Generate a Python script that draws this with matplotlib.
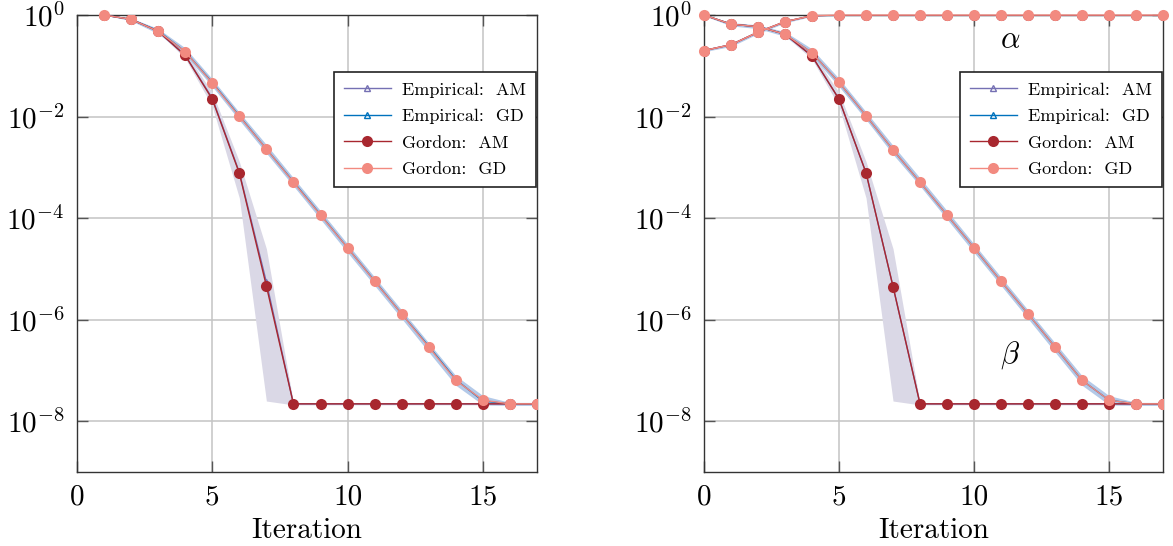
import numpy as np
import matplotlib
matplotlib.use("Agg")
import matplotlib.pyplot as plt

plt.rcParams['font.family'] = 'cmr10'
plt.rcParams['mathtext.fontset'] = 'cm'
plt.rcParams['axes.unicode_minus'] = False

# ---- data: left panel (iterations 1..17) ----
iters_left = np.arange(1, 18)
gordon_gd_left = [1.0, 0.82, 0.48, 0.19, 0.046, 0.0101, 0.0023, 5.1e-4, 1.15e-4, 2.6e-5,
                  5.7e-6, 1.3e-6, 2.9e-7, 6.4e-8, 2.6e-8, 2.2e-8, 2.2e-8]
gordon_am_left = [1.0, 0.82, 0.48, 0.16, 0.022, 7.7e-4, 4.6e-6, 2.2e-8, 2.2e-8, 2.2e-8,
                  2.2e-8, 2.2e-8, 2.2e-8, 2.2e-8, 2.2e-8, 2.2e-8, 2.2e-8]
emp_gd_left = [1.0, 0.82, 0.49, 0.19, 0.047, 0.0103, 0.0023, 5.2e-4, 1.17e-4, 2.6e-5,
               5.8e-6, 1.3e-6, 3.0e-7, 6.6e-8, 2.5e-8, 2.2e-8, 2.2e-8]
emp_am_left = [1.0, 0.82, 0.48, 0.16, 0.023, 8.0e-4, 5.5e-6, 2.2e-8, 2.2e-8, 2.2e-8,
               2.2e-8, 2.2e-8, 2.2e-8, 2.2e-8, 2.2e-8, 2.2e-8, 2.2e-8]
gd_lo_left = [1.0, 0.77, 0.43, 0.165, 0.039, 0.0085, 0.0019, 4.3e-4, 9.5e-5, 2.1e-5,
              4.7e-6, 1.05e-6, 2.3e-7, 5.1e-8, 2.1e-8, 2.05e-8, 2.05e-8]
gd_hi_left = [1.0, 0.87, 0.54, 0.225, 0.055, 0.0121, 0.0028, 6.2e-4, 1.4e-4, 3.1e-5,
              6.9e-6, 1.55e-6, 3.5e-7, 7.9e-8, 3.2e-8, 2.35e-8, 2.35e-8]
am_lo_left = [1.0, 0.79, 0.46, 0.14, 0.016, 2.5e-4, 2.5e-8, 2.1e-8, 2.1e-8, 2.1e-8,
              2.1e-8, 2.1e-8, 2.1e-8, 2.1e-8, 2.1e-8, 2.1e-8, 2.1e-8]
am_hi_left = [1.0, 0.85, 0.50, 0.185, 0.030, 1.3e-3, 2.5e-5, 2.3e-8, 2.3e-8, 2.3e-8,
              2.3e-8, 2.3e-8, 2.3e-8, 2.3e-8, 2.3e-8, 2.3e-8, 2.3e-8]

# ---- data: right panel (iterations 0..17) ----
iters_right = np.arange(0, 18)
alpha_gd = [0.2, 0.26, 0.46, 0.74, 0.97, 1.0, 1.0, 1.0, 1.0, 1.0,
            1.0, 1.0, 1.0, 1.0, 1.0, 1.0, 1.0, 1.0]
alpha_lo = [0.19, 0.24, 0.43, 0.70, 0.94, 0.97, 0.97, 0.97, 0.97, 0.97,
            0.97, 0.97, 0.97, 0.97, 0.97, 0.97, 0.97, 0.97]
alpha_hi = [0.21, 0.28, 0.49, 0.78, 1.0, 1.03, 1.03, 1.03, 1.03, 1.03,
            1.03, 1.03, 1.03, 1.03, 1.03, 1.03, 1.03, 1.03]
beta_gd = [1.0, 0.66, 0.59, 0.42, 0.18, 0.047, 0.0104, 0.0022, 5.1e-4, 1.15e-4,
           2.6e-5, 5.7e-6, 1.3e-6, 2.9e-7, 6.4e-8, 2.6e-8, 2.2e-8, 2.2e-8]
beta_am = [1.0, 0.66, 0.59, 0.42, 0.155, 0.022, 7.8e-4, 4.5e-6, 2.2e-8, 2.2e-8,
           2.2e-8, 2.2e-8, 2.2e-8, 2.2e-8, 2.2e-8, 2.2e-8, 2.2e-8, 2.2e-8]
beta_gd_lo = [0.97, 0.61, 0.54, 0.38, 0.155, 0.039, 0.0087, 0.0018, 4.3e-4, 9.5e-5,
              2.1e-5, 4.7e-6, 1.05e-6, 2.3e-7, 5.1e-8, 2.1e-8, 2.05e-8, 2.05e-8]
beta_gd_hi = [1.0, 0.71, 0.64, 0.47, 0.215, 0.056, 0.0124, 0.0027, 6.2e-4, 1.4e-4,
              3.1e-5, 6.9e-6, 1.55e-6, 3.5e-7, 7.9e-8, 3.2e-8, 2.35e-8, 2.35e-8]
beta_am_lo = [0.97, 0.63, 0.56, 0.39, 0.135, 0.016, 2.5e-4, 2.5e-8, 2.1e-8, 2.1e-8,
              2.1e-8, 2.1e-8, 2.1e-8, 2.1e-8, 2.1e-8, 2.1e-8, 2.1e-8, 2.1e-8]
beta_am_hi = [1.0, 0.69, 0.62, 0.45, 0.18, 0.030, 1.3e-3, 2.5e-5, 2.3e-8, 2.3e-8,
              2.3e-8, 2.3e-8, 2.3e-8, 2.3e-8, 2.3e-8, 2.3e-8, 2.3e-8, 2.3e-8]

labels = ["Empirical:  AM", "Empirical:  GD", "Gordon:  AM", "Gordon:  GD"]
c_emp_am = '#7570b3'
c_emp_gd = '#0072bd'
c_gor_am = '#a8272f'
c_gor_gd = '#f28a80'
c_band_am = '#dad8e6'
c_band_gd = '#b3c9e8'

yticks = [1, 1e-2, 1e-4, 1e-6, 1e-8]
ytick_labels = ["$10^{0}$", "$10^{-2}$", "$10^{-4}$", "$10^{-6}$", "$10^{-8}$"]


def style_axes(ax):
    ax.set_yscale('log')
    ax.set_xlim(0, 17)
    ax.set_ylim(1e-9, 1)
    ax.set_xticks([0, 5, 10, 15])
    ax.set_xticklabels(["0", "5", "10", "15"])
    ax.set_yticks(yticks)
    ax.set_yticklabels(ytick_labels)
    ax.minorticks_off()
    ax.tick_params(direction='in', length=8, width=1.0, top=True, right=True,
                   labelsize=21, pad=9, color='#555555')
    ax.grid(True, color='#c4c4c4', linewidth=1.1)
    ax.set_axisbelow(True)
    for s in ax.spines.values():
        s.set_color('#333333')
        s.set_linewidth(1.0)
    ax.set_xlabel("Iteration", fontsize=21, labelpad=5)


def draw_pair(ax, x, emp_am, emp_gd, gor_am, gor_gd):
    ax.plot(x, emp_am, color=c_emp_am, lw=1.0, marker='^', ms=5, mfc='none', mew=1.0,
            label=labels[0], zorder=3)
    ax.plot(x, emp_gd, color=c_emp_gd, lw=1.0, marker='^', ms=5, mfc='none', mew=1.0,
            label=labels[1], zorder=3)
    ax.plot(x, gor_am, color=c_gor_am, lw=1.0, marker='o', ms=8, mec='none',
            label=labels[2], zorder=4)
    ax.plot(x, gor_gd, color=c_gor_gd, lw=1.0, marker='o', ms=8, mec='none',
            label=labels[3], zorder=5)


fig = plt.figure(figsize=(11.73, 5.46), dpi=100)
ax1 = fig.add_axes([0.0656, 0.1355, 0.3922, 0.837])
ax2 = fig.add_axes([0.6002, 0.1355, 0.3913, 0.837])

# left panel
ax1.fill_between(iters_left, am_lo_left, am_hi_left, color=c_band_am, lw=0, zorder=2)
ax1.fill_between(iters_left, gd_lo_left, gd_hi_left, color=c_band_gd, lw=0, zorder=2)
draw_pair(ax1, iters_left, emp_am_left, emp_gd_left, gordon_am_left, gordon_gd_left)

# right panel
ax2.fill_between(iters_right, beta_am_lo, beta_am_hi, color=c_band_am, lw=0, zorder=2)
ax2.fill_between(iters_right, beta_gd_lo, beta_gd_hi, color=c_band_gd, lw=0, zorder=2)
ax2.fill_between(iters_right, alpha_lo, alpha_hi, color=c_band_gd, lw=0, zorder=2)
draw_pair(ax2, iters_right, beta_am, beta_gd, beta_am, beta_gd)
ax2.plot(iters_right, alpha_gd, color=c_emp_am, lw=1.0, marker='^', ms=5, mfc='none', zorder=3)
ax2.plot(iters_right, alpha_gd, color=c_gor_am, lw=1.0, marker='o', ms=8, mec='none', zorder=4)
ax2.plot(iters_right, alpha_gd, color=c_gor_gd, lw=1.0, marker='o', ms=8, mec='none',
         zorder=5, clip_on=False)
ax2.text(11.35, 0.32, r"$\alpha$", fontsize=22, ha='center', va='center')
ax2.text(11.35, 2.0e-7, r"$\beta$", fontsize=22, ha='center', va='center')

for ax in (ax1, ax2):
    style_axes(ax)
    leg = ax.legend(loc='upper right', bbox_to_anchor=(0.997, 0.875), borderaxespad=0,
                    fontsize=13, fancybox=False, framealpha=1, edgecolor='#222222',
                    handlelength=2.6, handletextpad=0.6, labelspacing=0.6,
                    borderpad=0.55)
    leg.get_frame().set_linewidth(1.2)
    leg.set_zorder(10)

ax1.plot(iters_left[:1], gordon_gd_left[:1], color=c_gor_gd, marker='o', ms=8, mec='none',
         clip_on=False, zorder=6)
ax2.plot(iters_right[:1], beta_gd[:1], color=c_gor_gd, marker='o', ms=8, mec='none',
         clip_on=False, zorder=6)

fig.savefig('out.png', dpi=100)
